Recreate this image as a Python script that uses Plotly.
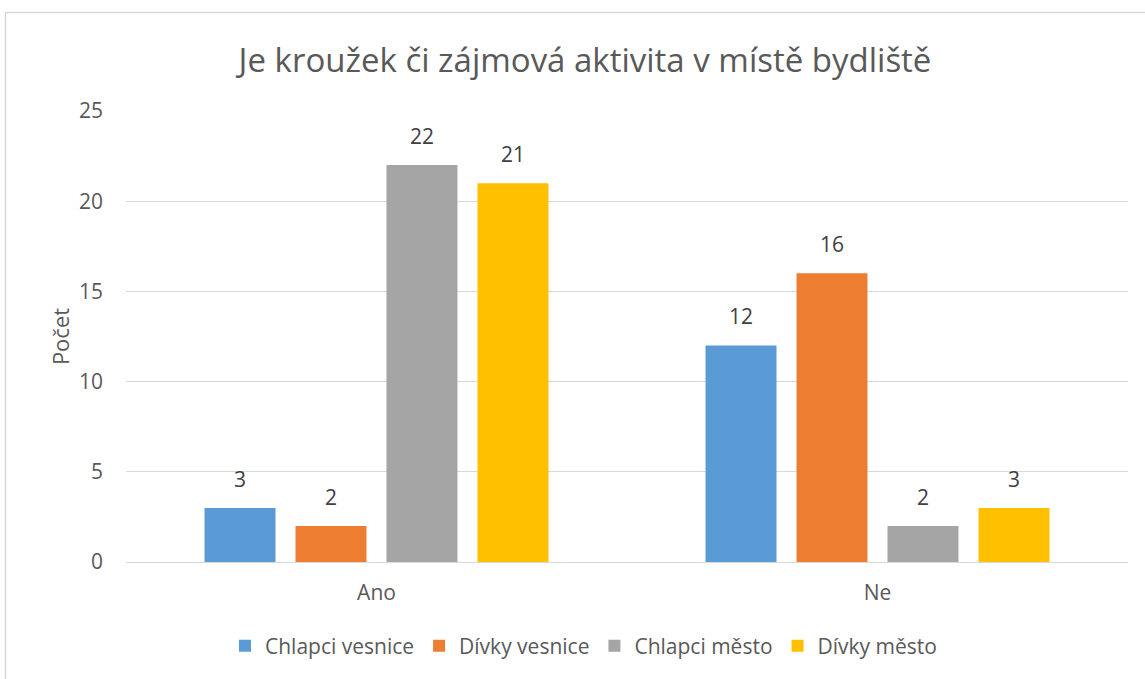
import plotly.graph_objects as go

categories = ["Ano", "Ne"]
series_names = ["Chlapci vesnice", "Dívky vesnice", "Chlapci město", "Dívky město"]
chlapci_vesnice = [3, 12]
divky_vesnice = [2, 16]
chlapci_mesto = [22, 2]
divky_mesto = [21, 3]
values = [chlapci_vesnice, divky_vesnice, chlapci_mesto, divky_mesto]
colors = ["#5B9BD5", "#ED7D31", "#A5A5A5", "#FFC000"]
y_ticks = [0, 5, 10, 15, 20, 25]

FONT = "Open Sans"
BARGAP = 0.2735

fig = go.Figure()
for name, vals, col in zip(series_names, values, colors):
    fig.add_trace(go.Bar(
        name=name, x=categories, y=vals, marker_color=col,
        marker_line_width=0, offsetgroup=name, alignmentgroup="a",
    ))
# value labels, grouped like the bars
for name, vals in zip(series_names, values):
    fig.add_trace(go.Scatter(
        x=categories, y=vals, mode="markers+text", text=[str(v) for v in vals],
        textposition="top center", offsetgroup=name, alignmentgroup="a",
        marker=dict(size=24, opacity=0), showlegend=False, hoverinfo="skip",
        textfont=dict(size=21, color="#404040", family=FONT),
        cliponaxis=False,
    ))

W, H = 1145, 679
l, r, t, b = 126, 17, 111, 117
pw, ph = W - l - r, H - t - b

fig.update_layout(
    width=W, height=H,
    margin=dict(l=l, r=r, t=t, b=b),
    paper_bgcolor="white", plot_bgcolor="white",
    font=dict(family=FONT, color="#595959", size=21),
    title=dict(text="Je kroužek či zájmová aktivita v místě bydliště",
               x=585 / W, xanchor="center", y=1 - 60 / H, yanchor="middle",
               font=dict(size=33, color="#595959", family=FONT)),
    barmode="group", bargap=BARGAP, bargroupgap=0.22,
    scattermode="group", scattergap=BARGAP,
    showlegend=True,
    legend=dict(orientation="h", x=0.4566, xanchor="center",
                y=-(646 - 562) / ph, yanchor="middle",
                font=dict(size=21, color="#595959", family=FONT),
                traceorder="normal"),
    xaxis=dict(showgrid=False, showline=True, linecolor="#D9D9D9", linewidth=1,
               ticks="", ticklabelstandoff=12,
               tickfont=dict(size=21, color="#595959")),
    yaxis=dict(range=[0, 25], tickvals=y_ticks, showgrid=True,
               gridcolor="#D9D9D9", gridwidth=1, zeroline=False,
               showline=False, ticks="", ticklabelstandoff=22,
               tickfont=dict(size=21, color="#595959"),
               title=dict(text="Počet", standoff=3,
                          font=dict(size=22, color="#595959"))),
    shapes=[dict(type="rect", xref="paper", yref="paper",
                 x0=(5.5 - l) / pw, x1=(W + 10 - l) / pw,
                 y0=-(H + 10 - (t + ph)) / ph, y1=(t + ph - 12.5) / ph,
                 line=dict(color="#D9D9D9", width=1.5), fillcolor="rgba(0,0,0,0)",
                 layer="below")],
)

fig.write_html("out.html", config={"displayModeBar": False},
               post_script="document.body.style.margin='0';")
